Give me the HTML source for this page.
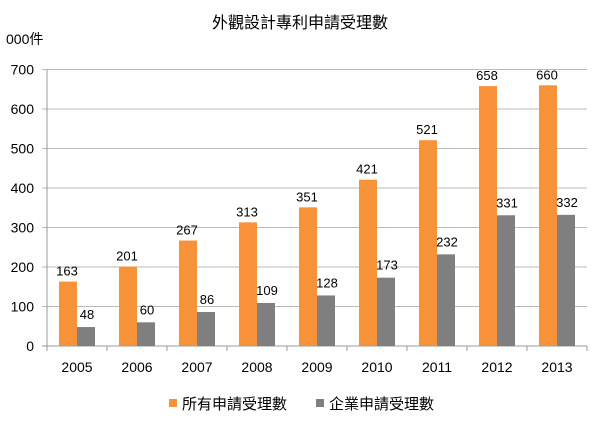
<!DOCTYPE html>
<html><head><meta charset="utf-8"><style>
body{margin:0;background:#fff;}
svg text{font-family:"Liberation Sans","Noto Sans CJK TC",sans-serif;fill:#000;}
</style></head><body>
<svg width="600" height="422" viewBox="0 0 600 422">
<text x="300" y="28" text-anchor="middle" font-size="16">外觀設計專利申請受理數</text>
<text x="6" y="44" font-size="14">000件</text>
<g id="grid"></g><g id="bars"></g><g id="labels"></g>
<rect x="169" y="399" width="8" height="8" fill="#F79239"/>
<text x="182" y="409" font-size="15">所有申請受理數</text>
<rect x="316" y="399" width="8" height="8" fill="#7F7F7F"/>
<text x="329" y="409" font-size="15">企業申請受理數</text>
</svg>
<script>
const categories=["2005","2006","2007","2008","2009","2010","2011","2012","2013"];
const allApps=[163,201,267,313,351,421,521,658,660];
const entApps=[48,60,86,109,128,173,232,331,332];
const yTicks=[0,100,200,300,400,500,600,700];
const NS="http://www.w3.org/2000/svg";
const x0=47,cw=60,yBase=346,yTop=69.5,yMax=700;
const y=v=>yBase-(yBase-yTop)*v/yMax;
function mk(t,a,p){const e=document.createElementNS(NS,t);for(const k in a)e.setAttribute(k,a[k]);p.appendChild(e);return e;}
const g=document.getElementById('grid'),b=document.getElementById('bars'),l=document.getElementById('labels');
yTicks.forEach(v=>{
 const ln=mk('line',{x1:x0-5,x2:x0+cw*categories.length,y1:y(v),y2:y(v),stroke:v===0?'#999':'#bbb','stroke-width':1},g);
 
 
 const t=mk('text',{x:x0-13,y:y(v)+5,'text-anchor':'end','font-size':14},g);t.textContent=v;
 
 
});
const ax=mk('line',{x1:x0,x2:x0,y1:yTop,y2:yBase+5,stroke:'#999'},g);


categories.forEach((c,i)=>{
 const cx=x0+i*cw;
 const tk=mk('line',{x1:cx+cw,x2:cx+cw,y1:yBase,y2:yBase+5,stroke:'#999'},g);
 
 
 const t=mk('text',{x:cx+cw/2,y:yBase+26,'text-anchor':'middle','font-size':14},g);t.textContent=c;
 
 
 const r1=mk('rect',{x:cx+12,y:y(allApps[i]),width:18,height:yBase-y(allApps[i]),fill:'#F79239'},b);
 
 
 const r2=mk('rect',{x:cx+30,y:y(entApps[i]),width:18,height:yBase-y(entApps[i]),fill:'#7F7F7F'},b);
 
 
 const t1=mk('text',{x:cx+20,y:y(allApps[i])-6,'text-anchor':'middle','font-size':13},l);t1.textContent=allApps[i];
 
 
 const t2=mk('text',{x:cx+40,y:y(entApps[i])-8,'text-anchor':'middle','font-size':13},l);t2.textContent=entApps[i];
 
 
});
</script>
</body></html>
